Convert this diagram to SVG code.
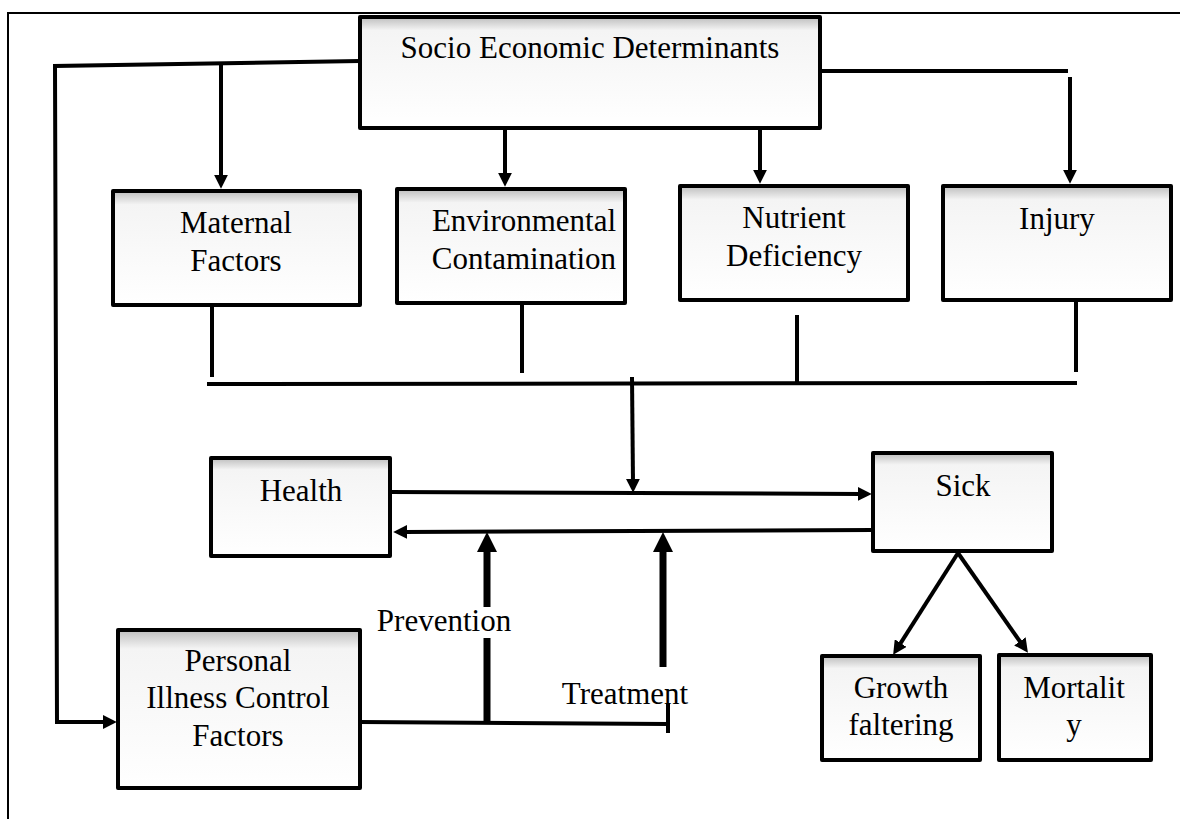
<svg xmlns="http://www.w3.org/2000/svg" width="1180" height="819" viewBox="0 0 1180 819">
<style>
.box{fill:url(#bg);stroke:#000;stroke-width:4;stroke-linejoin:round}
.ln{fill:none;stroke:#000;stroke-width:4}
.thick{fill:none;stroke:#000;stroke-width:7}
text{font-size:31px;fill:#000;text-anchor:middle}
</style>
<defs>
<linearGradient id="bg" x1="0" y1="0" x2="0" y2="1">
<stop offset="0" stop-color="#bdbdbd"/>
<stop offset="0.12" stop-color="#f4f4f4"/>
<stop offset="1" stop-color="#ffffff"/>
</linearGradient>
<marker id="ah" viewBox="0 0 10 10" refX="3" refY="5" markerWidth="14" markerHeight="14" markerUnits="userSpaceOnUse" orient="auto">
<path d="M0,0 L10,5 L0,10 z" fill="#000"/>
</marker>
<marker id="ahb" viewBox="0 0 10 10" refX="3" refY="5" markerWidth="20" markerHeight="20" markerUnits="userSpaceOnUse" orient="auto">
<path d="M0,0 L10,5 L0,10 z" fill="#000"/>
</marker>
</defs>
<rect width="1180" height="819" fill="#fff"/>
<g id="frame">
<line x1="8" y1="13" x2="1180" y2="13" stroke="#000" stroke-width="2"/>
<line x1="8" y1="12" x2="8" y2="819" stroke="#000" stroke-width="2"/>
</g>
<g id="connectors">
<path class="ln" d="M360,61 L55,66 L57,722 L107,722" marker-end="url(#ah)"/>
<line class="ln" x1="221" y1="64" x2="221" y2="179" marker-end="url(#ah)"/>
<line class="ln" x1="505" y1="128" x2="505" y2="177" marker-end="url(#ah)"/>
<line class="ln" x1="760" y1="128" x2="760" y2="174" marker-end="url(#ah)"/>
<line class="ln" x1="820" y1="71" x2="1068" y2="71"/>
<line class="ln" x1="1070" y1="77" x2="1070" y2="174" marker-end="url(#ah)"/>
<line class="ln" x1="212" y1="305" x2="212" y2="377"/>
<line class="ln" x1="522" y1="303" x2="522" y2="373"/>
<line class="ln" x1="797" y1="315" x2="797" y2="384"/>
<line class="ln" x1="1076" y1="300" x2="1076" y2="372"/>
<line class="ln" x1="207" y1="384" x2="1077" y2="383"/>
<line class="ln" x1="632" y1="377" x2="633" y2="483" marker-end="url(#ah)"/>
<line class="ln" x1="390" y1="492" x2="862" y2="494" marker-end="url(#ah)"/>
<line class="ln" x1="873" y1="530" x2="403" y2="532" marker-end="url(#ah)"/>
<line class="thick" x1="487" y1="722" x2="487" y2="638"/>
<line class="thick" x1="487" y1="607" x2="487" y2="546" marker-end="url(#ahb)"/>
<line class="thick" x1="663" y1="667" x2="663" y2="546" marker-end="url(#ahb)"/>
<line class="ln" x1="360" y1="722" x2="668" y2="724"/>
<line class="ln" x1="668" y1="703" x2="668" y2="733"/>
<line class="ln" x1="958" y1="553" x2="898.4" y2="646.6" marker-end="url(#ah)"/>
<line class="ln" x1="958" y1="553" x2="1022.3" y2="644.8" marker-end="url(#ah)"/>
</g>
<g font-family="Liberation Serif, Tinos, Times New Roman, DejaVu Serif, serif">
<g id="socio">
<rect class="box" x="360" y="17" width="460" height="111"/>
<text x="590" y="58">Socio Economic Determinants</text>
</g>
<g id="maternal">
<rect class="box" x="113" y="191" width="247" height="114"/>
<text x="236" y="233">Maternal</text>
<text x="236" y="271">Factors</text>
</g>
<g id="environmental">
<rect class="box" x="397" y="189" width="228" height="114"/>
<text x="524" y="231">Environmental</text>
<text x="524" y="269">Contamination</text>
</g>
<g id="nutrient">
<rect class="box" x="680" y="186" width="228" height="114"/>
<text x="794" y="228">Nutrient</text>
<text x="794" y="266">Deficiency</text>
</g>
<g id="injury">
<rect class="box" x="943" y="186" width="228" height="114"/>
<text x="1057" y="229">Injury</text>
</g>
<g id="health">
<rect class="box" x="211" y="458" width="179" height="98"/>
<text x="301" y="501">Health</text>
</g>
<g id="sick">
<rect class="box" x="873" y="453" width="179" height="98"/>
<text x="963" y="496">Sick</text>
</g>
<g id="personal">
<rect class="box" x="118" y="630" width="242" height="158"/>
<text x="238" y="671">Personal</text>
<text x="238" y="708">Illness Control</text>
<text x="238" y="746">Factors</text>
</g>
<g id="growth">
<rect class="box" x="822" y="656" width="158" height="104"/>
<text x="901" y="698">Growth</text>
<text x="901" y="735">faltering</text>
</g>
<g id="mortality">
<rect class="box" x="999" y="655" width="152" height="105"/>
<text x="1074" y="698">Mortalit</text>
<text x="1074" y="735">y</text>
</g>
<g id="labels">
<text x="444" y="631">Prevention</text>
<text x="625" y="704">Treatment</text>
</g>
</g>
</svg>
